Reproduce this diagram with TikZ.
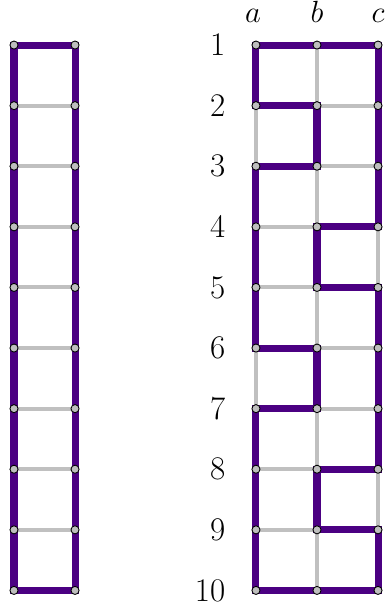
\documentclass[tikz,border=0pt]{standalone}
\usetikzlibrary{calc}
\definecolor{hpcol}{RGB}{75,0,130}
\definecolor{edgegray}{RGB}{192,192,192}
\definecolor{dotgray}{RGB}{190,190,190}
\begin{document}
\begin{tikzpicture}[
  hp/.style={draw=hpcol, line width=3.3pt, line join=miter, line cap=rect},
  ge/.style={draw=edgegray, line width=1.9pt},
  vdot/.style={circle, fill=dotgray, draw=black, line width=0.4pt, minimum size=3.8pt, inner sep=0pt},
  lbl/.style={font=\fontsize{15.5}{19}\selectfont, inner sep=0pt},
  clbl/.style={font=\fontsize{14}{17}\selectfont, inner sep=0pt}
]
\useasboundingbox (0,-10.066) rectangle (6.353,0);
% coordinates
\foreach \i in {1,...,10} {
  \pgfmathsetmacro{\yy}{-(0.743+(\i-1))}
  \coordinate (L\i) at (0.231,\yy);
  \coordinate (R\i) at (1.238,\yy);
  \coordinate (a\i) at (4.224,\yy);
  \coordinate (b\i) at (5.231,\yy);
  \coordinate (c\i) at (6.238,\yy);
}
% left ladder: gray rungs
\foreach \i in {2,...,9} { \draw[ge] (L\i) -- (R\i); }
\draw[hp] (L1) -- (R1) -- (R10) -- (L10) -- cycle;
% right grid gray edges
\draw[ge] (b1) -- (b2);
\draw[ge] (b2) -- (c2);
\draw[ge] (a2) -- (a3);
\draw[ge] (b3) -- (c3);
\draw[ge] (b3) -- (b4);
\draw[ge] (a4) -- (b4);
\draw[ge] (c4) -- (c5);
\draw[ge] (a5) -- (b5);
\draw[ge] (b5) -- (b6);
\draw[ge] (b6) -- (c6);
\draw[ge] (a6) -- (a7);
\draw[ge] (b7) -- (c7);
\draw[ge] (b7) -- (b8);
\draw[ge] (a8) -- (b8);
\draw[ge] (c8) -- (c9);
\draw[ge] (a9) -- (b9);
\draw[ge] (b9) -- (b10);
% hamiltonian cycle
\draw[hp] (a1) -- (b1) -- (c1) -- (c2) -- (c3) -- (c4) -- (b4) -- (b5) -- (c5)
  -- (c6) -- (c7) -- (c8) -- (b8) -- (b9) -- (c9) -- (c10) -- (b10) -- (a10)
  -- (a9) -- (a8) -- (a7) -- (b7) -- (b6) -- (a6) -- (a5) -- (a4) -- (a3)
  -- (b3) -- (b2) -- (a2) -- cycle;
% dots
\foreach \i in {1,...,10} {
  \node[vdot] at (L\i) {};
  \node[vdot] at (R\i) {};
  \node[vdot] at (a\i) {};
  \node[vdot] at (b\i) {};
  \node[vdot] at (c\i) {};
}
% row labels
\foreach \i in {1,...,10} {
  \node[lbl, anchor=east] (n\i) at ($(a\i)+(-0.50,0)$) {\i};
}
% column labels
\node[clbl, anchor=base] (la) at ($(a1)+(-0.05,0.38)$) {$a$};
\node[clbl, anchor=base] (lb) at ($(b1)+(0.0,0.38)$) {$b$};
\node[clbl, anchor=base] (lc) at ($(c1)+(0.0,0.38)$) {$c$};
\end{tikzpicture}
\end{document}
